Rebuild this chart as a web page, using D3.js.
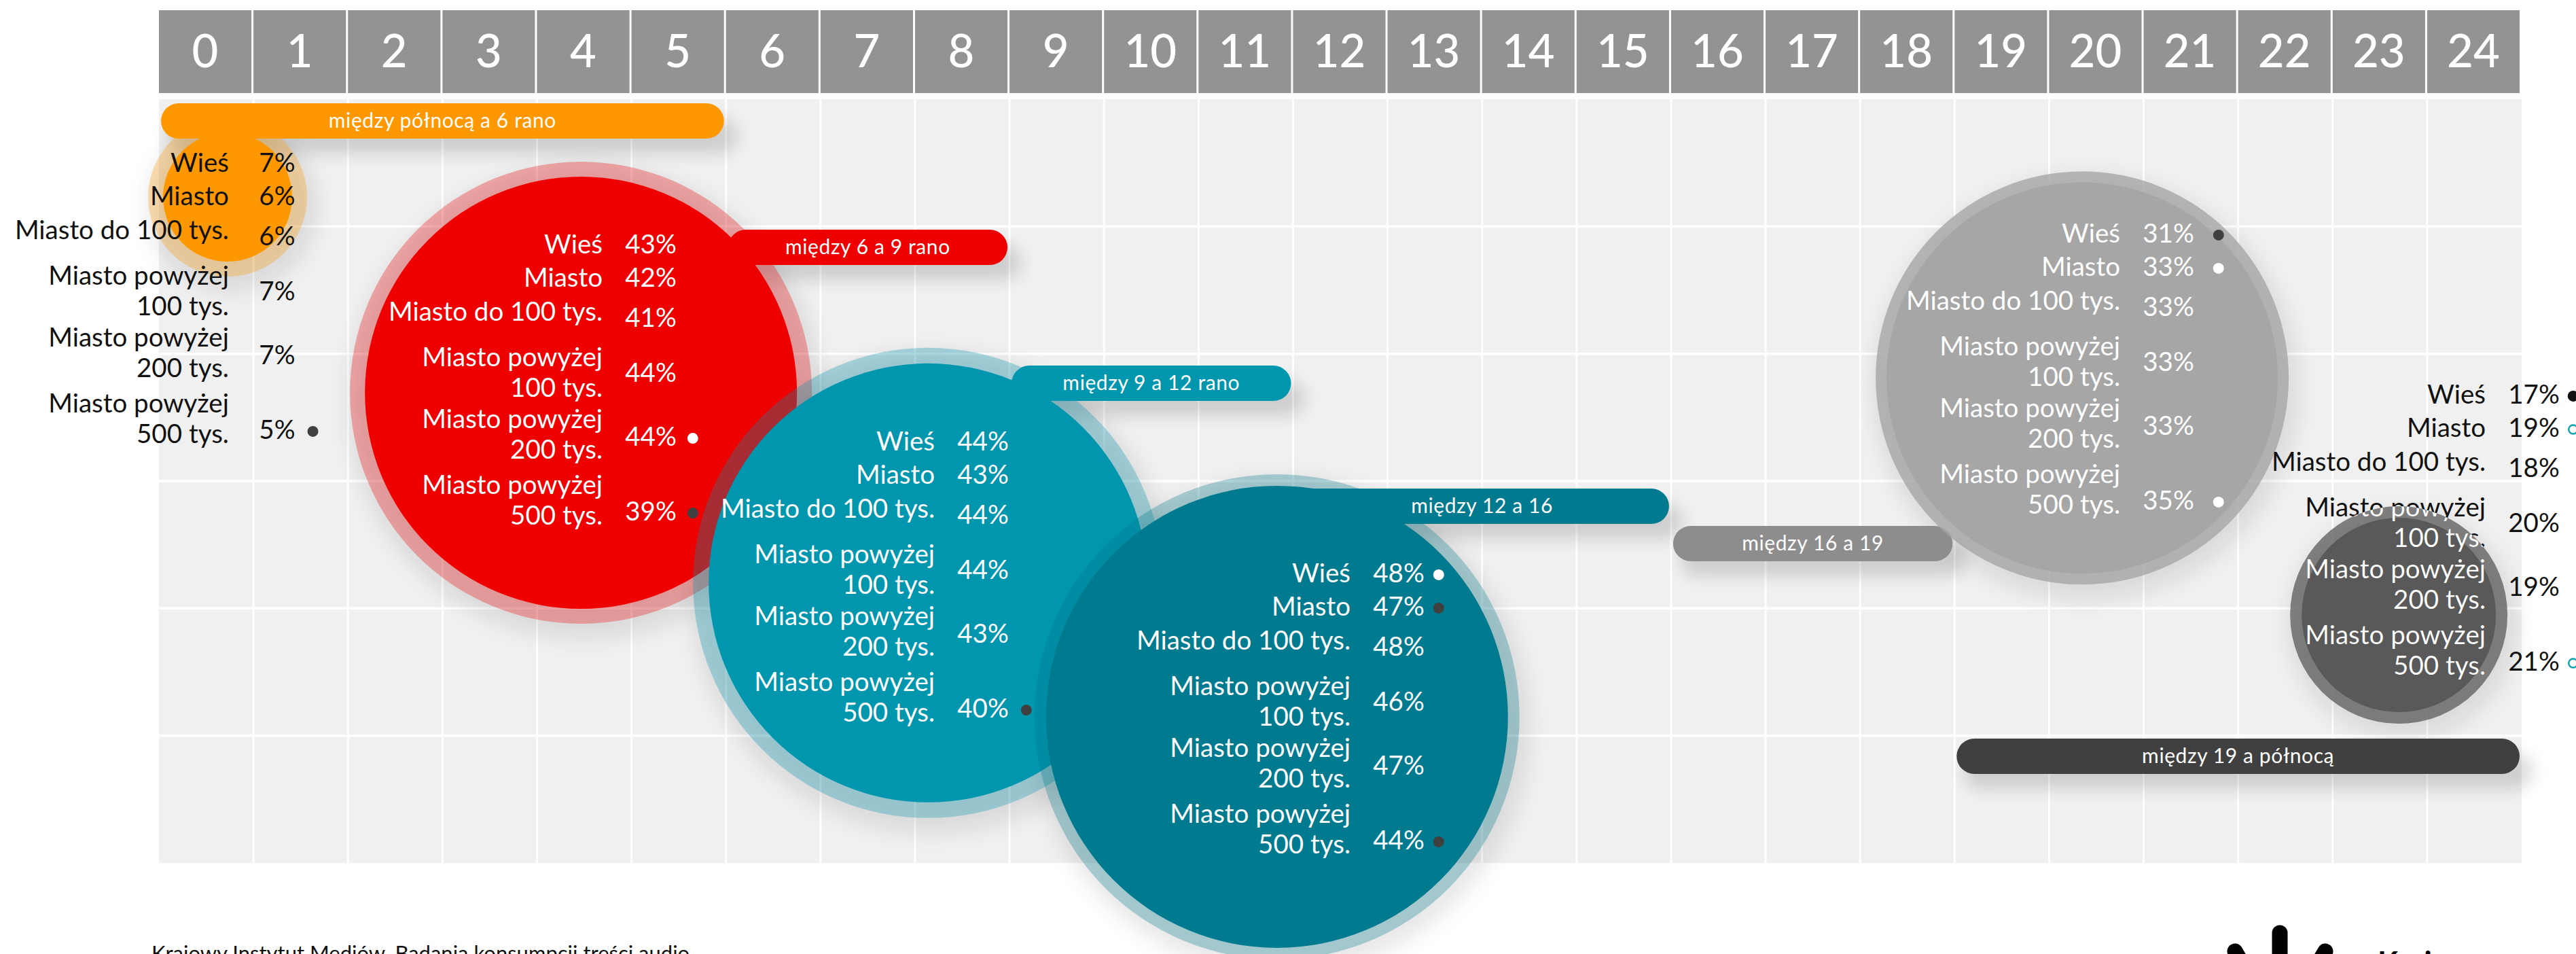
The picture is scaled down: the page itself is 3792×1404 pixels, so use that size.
<!DOCTYPE html>
<html>
<head>
<meta charset="utf-8">
<script src="https://cdn.jsdelivr.net/npm/d3@7"></script>
<style>
  html, body { margin: 0; padding: 0; background: #fff; }
  svg { display: block; font-family: Lato, 'Noto Sans', sans-serif; }
</style>
</head>
<body>
<svg id="chart" width="3792" height="1404"></svg>
<script>
// ---- data (read from the infographic) ----
const hourTicks = [0, 1, 2, 3, 4, 5, 6, 7, 8, 9, 10, 11, 12, 13, 14, 15, 16, 17, 18, 19, 20, 21, 22, 23, 24];
const categories = [['Wieś'], ['Miasto'], ['Miasto do 100 tys.'], ['Miasto powyżej', '100 tys.'], ['Miasto powyżej', '200 tys.'], ['Miasto powyżej', '500 tys.']];
const periodNames = ['między północą a 6 rano', 'między 6 a 9 rano', 'między 9 a 12 rano', 'między 12 a 16', 'między 16 a 19', 'między 19 a północą'];
const periodFirstHour = [0, 6, 9, 12, 16, 19];
const periodLastHour = [5, 8, 11, 15, 18, 24];

const values00_06 = [7, 6, 6, 7, 7, 5];
const values06_09 = [43, 42, 41, 44, 44, 39];
const values09_12 = [44, 43, 44, 44, 43, 40];
const values12_16 = [48, 47, 48, 46, 47, 44];
const values16_19 = [31, 33, 33, 33, 33, 35];
const values19_24 = [17, 19, 18, 20, 19, 21];
const periodValues = [values00_06, values06_09, values09_12, values12_16, values16_19, values19_24];

// markers next to values: 'dark' dot, 'white' dot, 'ring' hollow dot
const markers00_06 = ['', '', '', '', '', 'dark'];
const markers06_09 = ['', '', '', '', 'white', 'dark'];
const markers09_12 = ['', '', '', '', '', 'dark'];
const markers12_16 = ['white', 'dark', '', '', '', 'dark'];
const markers16_19 = ['dark', 'white', '', '', '', 'white'];
const markers19_24 = ['black', 'ring', '', '', '', 'ring'];
const periodMarkers = [markers00_06, markers06_09, markers09_12, markers12_16, markers16_19, markers19_24];

// ---- layout / style ----
const colors = ['#fe9700', '#ef0000', '#0096ae', '#007a8f', '#a6a6a6', '#595959'];
const barColors = ['#fe9700', '#ef0000', '#0096ae', '#007a8f', '#8d8d8d', '#404040'];
const ringOpacity = [0.3, 0.3, 0.3, 0.3, 0.8, 0.74];
const bubbleCx = [0.726, 4.465, 8.138, 11.83, 20.35, 23.70];   // in hours
const bubbleCy = [0.769, 2.306, 3.80, 4.852, 2.19, 4.052];     // in grid rows
const bubbleR = [95, 318, 323, 340, 288, 143];
const ringR = [117, 340, 346, 357, 304, 160];
const labelX = [0.74, 4.694, 8.209, 12.608, 20.752, 24.619];   // right edge of names, in hours
const labelY = [0.571, 1.212, 2.760, 3.795, 1.126, 2.391];     // first baseline, in rows
const barTop = [0.032, 1.025, 2.093, 3.059, 3.352, 5.023];     // in rows
const textColors = ['#111', '#fff', '#fff', '#fff', '#fff', '#111'];
const dotGap = [26, 24, 26, 21, 36, 20];
const barFirst = [false, false, false, false, true, false];
const lineOffsets = [[0], [49], [99], [166, 211], [257, 302], [354, 399]];
const pctOffsets = [0, 49, 108, 189, 283, 393];
const labelSize = 38.5;

const left = 234, right = 3712, headTop = 15, headBottom = 137, plotTop = 146, plotBottom = 1270;

const svg = d3.select('#chart');
const defs = svg.append('defs');
defs.append('filter').attr('id', 'soft').attr('x', '-50%').attr('y', '-50%').attr('width', '200%').attr('height', '200%')
  .append('feGaussianBlur').attr('stdDeviation', 16);
defs.append('filter').attr('id', 'softBar').attr('x', '-20%').attr('y', '-100%').attr('width', '140%').attr('height', '300%')
  .append('feGaussianBlur').attr('stdDeviation', 12);

const x = d3.scaleBand().domain(hourTicks).range([left, right]);
const xh = d3.scaleLinear().domain([0, hourTicks.length]).range([left, right]);
const y = d3.scaleLinear().domain([0, 6]).range([plotTop, plotBottom]);

// header
const head = svg.append('g');
head.selectAll('rect').data(hourTicks).join('rect')
  .attr('x', d => x(d)).attr('y', headTop)
  .attr('width', x.bandwidth() - 3).attr('height', headBottom - headTop)
  .attr('fill', '#939393');
head.selectAll('text').data(hourTicks).join('text')
  .attr('x', d => x(d) + x.bandwidth() / 2 - 1.5).attr('y', 99)
  .attr('text-anchor', 'middle').attr('font-size', 67).attr('font-weight', 500)
  .attr('fill', '#fff').text(d => d);

// plot background + grid
svg.append('rect').attr('x', left).attr('y', plotTop).attr('width', right - left).attr('height', plotBottom - plotTop).attr('fill', '#f0f0f0');
svg.append('g').selectAll('line').data(hourTicks.slice(1)).join('line')
  .attr('x1', d => x(d)).attr('x2', d => x(d)).attr('y1', plotTop).attr('y2', plotBottom)
  .attr('stroke', '#fff').attr('stroke-width', 3);
svg.append('g').selectAll('line').data(d3.range(1, 6)).join('line')
  .attr('x1', left).attr('x2', right).attr('y1', d => y(d)).attr('y2', d => y(d))
  .attr('stroke', '#fff').attr('stroke-width', 3.5);

// shadows first, all of them under the shapes
const shadows = svg.append('g');
periodNames.forEach((p, i) => {
  shadows.append('circle').attr('cx', xh(bubbleCx[i]) + 6).attr('cy', y(bubbleCy[i]) + 14)
    .attr('r', ringR[i] + 8).attr('fill', '#000').attr('opacity', 0.09).attr('filter', 'url(#soft)');
  const bx0 = x(periodFirstHour[i]) + 3, bx1 = x(periodLastHour[i]) + x.bandwidth() - 3;
  shadows.append('rect').attr('x', bx0 + 10).attr('y', y(barTop[i]) + 22)
    .attr('width', bx1 - bx0 + 10).attr('height', 52).attr('rx', 26)
    .attr('fill', '#000').attr('opacity', 0.14).attr('filter', 'url(#softBar)');
});

const layer = svg.append('g');

function drawBar(g, i) {
  const bx0 = x(periodFirstHour[i]) + 3, bx1 = x(periodLastHour[i]) + x.bandwidth() - 3;
  const by = y(barTop[i]);
  g.append('rect').attr('x', bx0).attr('y', by).attr('width', bx1 - bx0).attr('height', 52)
    .attr('rx', 26).attr('fill', barColors[i]);
  g.append('text').attr('x', (bx0 + bx1) / 2).attr('y', by + 36)
    .attr('text-anchor', 'middle').attr('font-size', 30).attr('letter-spacing', 0.6).attr('fill', '#fff')
    .text(periodNames[i]);
}

function drawBubble(g, i) {
  const cx = xh(bubbleCx[i]), cy = y(bubbleCy[i]);
  g.append('circle').attr('cx', cx).attr('cy', cy).attr('r', ringR[i])
    .attr('fill', colors[i]).attr('fill-opacity', ringOpacity[i]);
  g.append('circle').attr('cx', cx).attr('cy', cy).attr('r', bubbleR[i]).attr('fill', colors[i]);
}

function drawLabels(g, i, color) {
  const lx = xh(labelX[i]), ly = y(labelY[i]);
  categories.forEach((lines, k) => {
    lines.forEach((line, j) => {
      g.append('text').attr('x', lx).attr('y', ly + lineOffsets[k][j])
        .attr('text-anchor', 'end').attr('font-size', labelSize).attr('fill', color).text(line);
    });
    const pct = g.append('text').attr('x', lx + 71).attr('y', ly + pctOffsets[k])
      .attr('text-anchor', 'middle').attr('font-size', labelSize).attr('fill', color)
      .text(periodValues[i][k] + '%');
    const m = periodMarkers[i][k];
    if (m) {
      const dx = lx + 71 + pct.node().getComputedTextLength() / 2 + dotGap[i];
      const dot = g.append('circle').attr('cx', dx).attr('cy', ly + pctOffsets[k] - 11).attr('r', m === 'ring' ? 6.5 : 8);
      if (m === 'ring') dot.attr('fill', 'none').attr('stroke', '#17a2b8').attr('stroke-width', 2.5);
      else dot.attr('fill', m === 'white' ? '#fff' : (m === 'black' ? '#111' : '#404040'));
    }
  });
}

periodNames.forEach((p, i) => {
  const g = layer.append('g');
  if (barFirst[i]) drawBar(g, i);
  drawBubble(g, i);
  drawLabels(g, i, textColors[i]);
  if (i === 5) {
    // names overlapping the small dark bubble turn white inside it
    defs.append('clipPath').attr('id', 'clipDark').append('circle')
      .attr('cx', xh(bubbleCx[i])).attr('cy', y(bubbleCy[i])).attr('r', ringR[i]);
    drawLabels(g.append('g').attr('clip-path', 'url(#clipDark)'), i, '#fff');
  }
  if (!barFirst[i]) drawBar(g, i);
});

// source + logo (cut by the bottom edge, as in the original)
svg.append('text').attr('x', 223).attr('y', 1414).attr('font-size', 31).attr('fill', '#111')
  .text('Krajowy Instytut Mediów, Badania konsumpcji treści audio');
const logo = svg.append('g').attr('stroke', '#000').attr('stroke-width', 23).attr('stroke-linecap', 'round').attr('fill', 'none');
logo.append('line').attr('x1', 3356).attr('y1', 1373).attr('x2', 3356).attr('y2', 1440);
logo.append('line').attr('x1', 3290).attr('y1', 1400).attr('x2', 3320).attr('y2', 1450);
logo.append('line').attr('x1', 3423).attr('y1', 1400).attr('x2', 3393).attr('y2', 1450);
svg.append('text').attr('x', 3500).attr('y', 1432).attr('font-size', 44).attr('font-weight', 700)
  .attr('fill', '#000').text('Krajowy');
</script>
</body>
</html>
